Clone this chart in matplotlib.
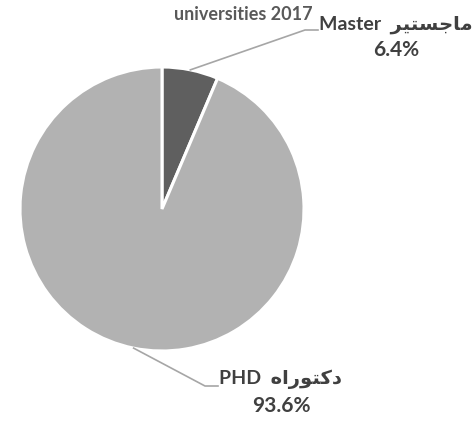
import numpy as np
import matplotlib.pyplot as plt

# Data
categories = ["Master", "PHD"]
arabic = ["\ufeae\ufef4\ufe98\ufeb4\ufe9f\ufe8e\ufee3",   # ماجستير (shaped, visual order)
          "\ufee9\ufe8d\ufead\ufeee\ufe98\ufedb\ufea9"]   # دكتوراه
shares = [6.4, 93.6]
colors = ["#5f5f5f", "#b2b2b2"]
title_text = "universities 2017"

W, H = 476, 424
fig = plt.figure(figsize=(W / 100, H / 100), dpi=100)
ax = fig.add_axes([0, 0, 1, 1])
ax.set_xlim(0, W)
ax.set_ylim(0, H)
ax.set_aspect("equal")
ax.axis("off")

cx, cy, r = 162, H - 209, 142
wedges, _ = ax.pie(shares, colors=colors, startangle=90, counterclock=False,
                   center=(cx, cy), radius=r,
                   wedgeprops=dict(edgecolor="white", linewidth=2.2))
ax.set_xlim(0, W)
ax.set_ylim(0, H)

fam = ["Lato", "DejaVu Sans"]
txt_col = "#404040"
line_col = "#a6a6a6"

ax.text(243, H - 14, title_text, ha="center", va="center", fontsize=13,
        fontweight="bold", color="#595959", family=fam)

# label placement: (elbow x, elbow y, end x, label x, label y, value x, value y)
places = [(305, 30, 318, 396, 25, 396, 50),
          (205, 386, 218, 280, 379, 281, 406)]
for w, cat, ar, val, p in zip(wedges, categories, arabic, shares, places):
    ang = np.deg2rad((w.theta1 + w.theta2) / 2)
    x0 = cx + r * np.cos(ang)
    y0 = cy + r * np.sin(ang)
    ex, ey, endx, lx, ly, vx, vy = p
    ax.plot([x0, ex, endx], [y0, H - ey, H - ey], color=line_col, lw=1.2)
    ax.text(lx, H - ly, cat + "  " + ar, ha="center", va="center",
            fontsize=14, fontweight="bold", color=txt_col, family=fam)
    ax.text(vx, H - vy, f"{val:.1f}%", ha="center", va="center",
            fontsize=15, fontweight="bold", color=txt_col, family=fam)

fig.savefig("out.png", dpi=100)
